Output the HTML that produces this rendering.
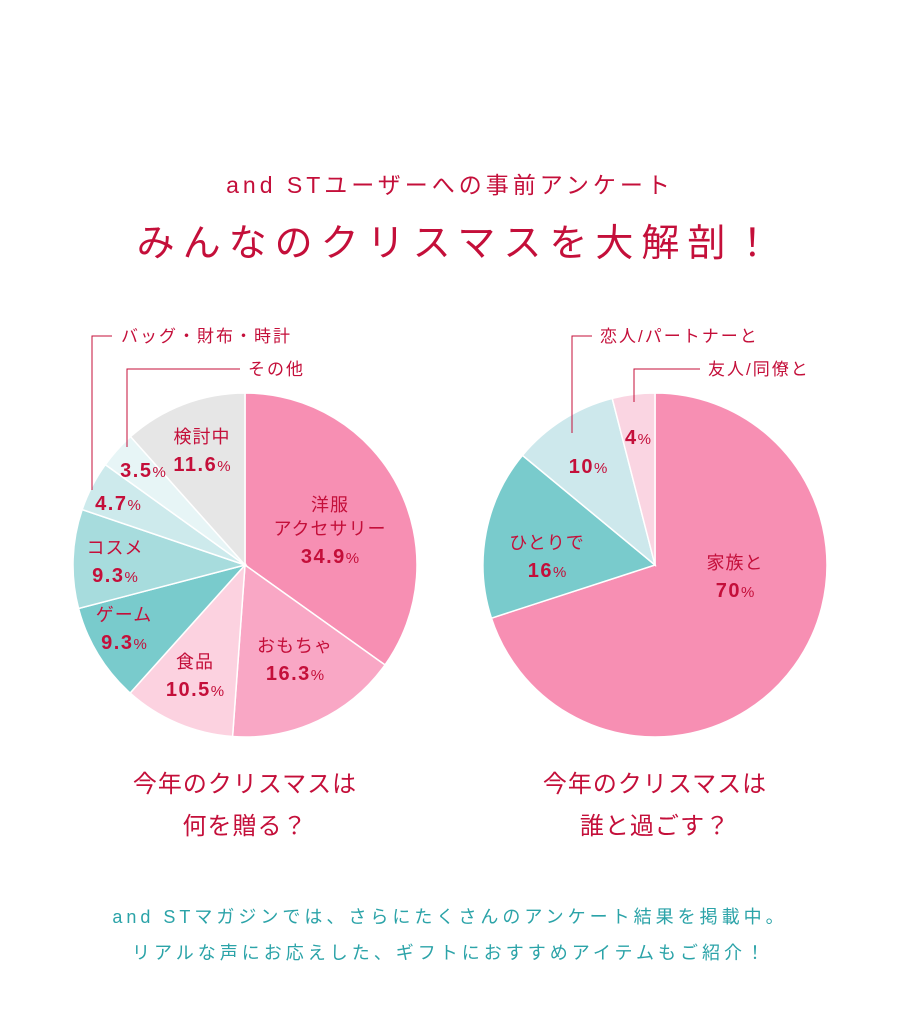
<!DOCTYPE html>
<html><head><meta charset="utf-8"><style>
body{margin:0;background:#fff;}
#wrap{position:relative;width:900px;height:1010px;overflow:hidden;font-family:"Liberation Sans","Noto Sans CJK JP",sans-serif;}
.t{position:absolute;left:0;width:900px;text-align:center;color:#c40f3a;white-space:nowrap;}
</style></head><body>
<div id="wrap">
<div class="t" style="top:166px;font-size:23px;letter-spacing:4px;">and STユーザーへの事前アンケート</div>
<div class="t" style="top:212px;font-size:38px;letter-spacing:8px;padding-left:8px;">みんなのクリスマスを大解剖！</div>
<svg id="chart" width="900" height="1010" style="position:absolute;left:0;top:0"></svg>
<div class="t" style="left:-205px;top:764px;font-size:24px;line-height:42px;letter-spacing:1px;">今年のクリスマスは<br>何を贈る？</div>
<div class="t" style="left:205px;top:764px;font-size:24px;line-height:42px;letter-spacing:1px;">今年のクリスマスは<br>誰と過ごす？</div>
<div class="t" style="top:899px;font-size:18px;line-height:36px;color:#2ba3a8;letter-spacing:4px;">and STマガジンでは、さらにたくさんのアンケート結果を掲載中。<br>リアルな声にお応えした、ギフトにおすすめアイテムもご紹介！</div>
</div>
<script>
const leftCategories=["洋服\nアクセサリー","おもちゃ","食品","ゲーム","コスメ","","","検討中"];
const leftValues=[34.9,16.3,10.5,9.3,9.3,4.7,3.5,11.6];
const rightCategories=["家族と","ひとりで","",""];
const rightValues=[70,16,10,4];
const leftColors=["#f78fb3","#f9a7c5","#fcd2e0","#79cbcc","#a7dcdd","#cdeaec","#e7f5f6","#e6e6e6"];
const rightColors=["#f78fb3","#79cbcc","#cde8ec","#fad5e2"];
const leftLabelPos=[[330,511],[295,652],[195,668],[124,621],[115,554],[118,510],[143,477],[202,443]];
const rightLabelPos=[[735,569],[547,549],[588,473],[638,444]];
const NS="http://www.w3.org/2000/svg";
const svg=document.getElementById('chart');
function mk(tag,attrs){const e=document.createElementNS(NS,tag);for(const k in attrs)e.setAttribute(k,attrs[k]);svg.appendChild(e);return e;}
function pie(cx,cy,r,vals,cols,cats,pos,name){
  const total=vals.reduce((a,b)=>a+b,0);let acc=0;
  vals.forEach((v,i)=>{
    const a0=acc/total*2*Math.PI;acc+=v;const a1=acc/total*2*Math.PI;
    const x0=cx+r*Math.sin(a0),y0=cy-r*Math.cos(a0),x1=cx+r*Math.sin(a1),y1=cy-r*Math.cos(a1);
    const large=(a1-a0)>Math.PI?1:0;
    const p=mk('path',{d:`M${cx},${cy}L${x0},${y0}A${r},${r} 0 ${large} 1 ${x1},${y1}Z`,fill:cols[i],stroke:'#fff','stroke-width':1.5});
    
    
  });
  vals.forEach((v,i)=>{
    const [x,y]=pos[i];
    const lines=cats[i]?cats[i].split('\n'):[];
    const t=mk('text',{x:x,y:y,'text-anchor':'middle',fill:'#c40f3a','font-family':'"Liberation Sans","Noto Sans CJK JP",sans-serif'});
    
    
    lines.forEach((l,j)=>{const s=document.createElementNS(NS,'tspan');s.setAttribute('x',x);s.setAttribute('dy',j==0?0:24);s.setAttribute('font-size','18');s.setAttribute('letter-spacing','1');s.textContent=l;t.appendChild(s);});
    const s=document.createElementNS(NS,'tspan');s.setAttribute('x',x);s.setAttribute('dy',lines.length?28:0);s.setAttribute('font-size','20');s.setAttribute('font-weight','bold');s.setAttribute('letter-spacing','1.5');s.textContent=v;t.appendChild(s);
    const s2=document.createElementNS(NS,'tspan');s2.setAttribute('font-size','15');s2.textContent='%';t.appendChild(s2);
  });
}
pie(245,565,172,leftValues,leftColors,leftCategories,leftLabelPos,'gift-pie');
pie(655,565,172,rightValues,rightColors,rightCategories,rightLabelPos,'company-pie');
function callout(pts,tx,ty,txt,name){
  const l=mk('polyline',{points:pts,fill:'none',stroke:'#c40f3a','stroke-width':1});
  
  
  const t=mk('text',{x:tx,y:ty,fill:'#c40f3a','font-size':17,'letter-spacing':2,'font-family':'"Liberation Sans","Noto Sans CJK JP",sans-serif'});
  
  
  t.textContent=txt;
}
callout('92,490 92,336 112,336',121,342,'バッグ・財布・時計','callout-bags');
callout('127,447 127,369 240,369',248,375,'その他','callout-other');
callout('572,433 572,336 592,336',600,342,'恋人/パートナーと','callout-partner');
callout('634,402 634,369 700,369',708,375,'友人/同僚と','callout-friends');
</script>
</body></html>
